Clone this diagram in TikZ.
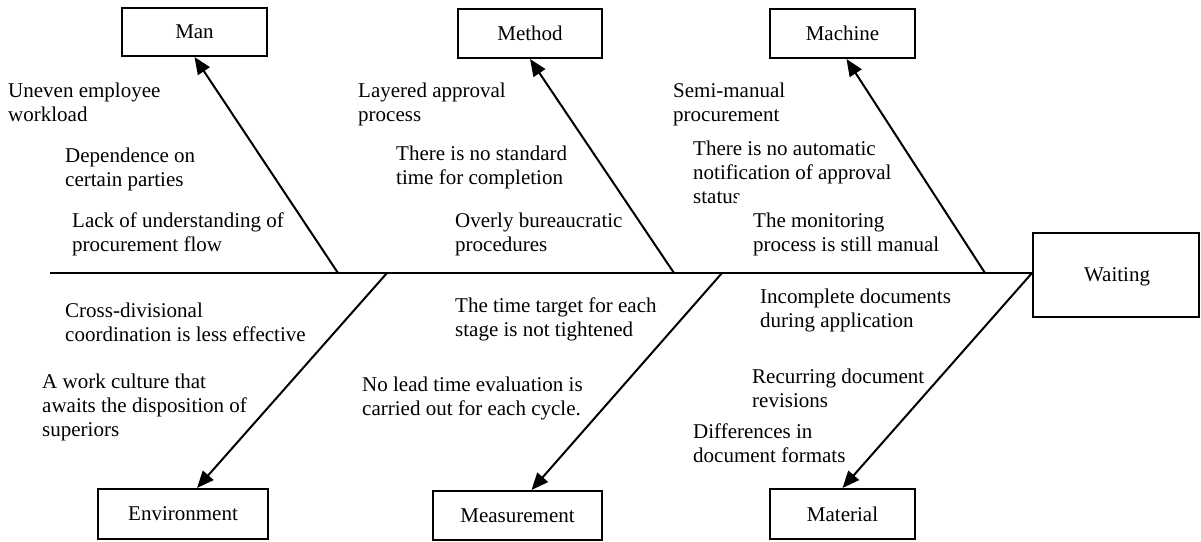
\documentclass[tikz,border=0pt]{standalone}
\usepackage{fontspec}
\setmainfont{Liberation Serif}
\usetikzlibrary{arrows.meta}
\begin{document}
\begin{tikzpicture}[x=1pt,y=-1pt,
  every node/.style={font=\fontsize{21}{24}\selectfont},
  catbox/.style={draw,line width=2pt,inner sep=0pt,minimum width=145pt,minimum height=48pt},
  % base anchor of a multi-line node sits on its last line
  cause/.style={anchor=base west,align=left,inner sep=0pt},
  bone/.style={line width=2pt},
  rib/.style={line width=2pt,-{Triangle[length=17pt,width=14pt]}}]
\useasboundingbox (0,0) rectangle (1201,541);

% category boxes
\node[catbox] (man) at (194.5,32) {Man};
\node[catbox,minimum width=144pt,minimum height=49pt] (method) at (530,33.5) {Method};
\node[catbox,minimum height=49pt] (machine) at (842.5,33.5) {Machine};
\node[catbox,minimum width=170pt,minimum height=50pt] (env) at (183,514) {Environment};
\node[catbox,minimum width=169pt,minimum height=49pt] (meas) at (517.5,515.5) {Measurement};
\node[catbox,minimum height=50pt] (material) at (842.5,514) {Material};
\node[catbox,minimum width=166pt,minimum height=84pt] (wait) at (1116,275) {};
\node (waittext) at (1117,277) {Waiting};

% causes above the spine
\node[cause] (c1) at (8,121) {Uneven employee\\workload};
\node[cause] (c2) at (65,186) {Dependence on\\certain parties};
\node[cause] (c3) at (72,251) {Lack of understanding of\\procurement flow};
\node[cause] (c4) at (358,121) {Layered approval\\process};
\node[cause] (c5) at (396,184) {There is no standard\\time for completion};
\node[cause] (c6) at (455,251) {Overly bureaucratic\\procedures};
\node[cause] (c7) at (673,121) {Semi-manual\\procurement};
\node[cause] (c8) at (693,203) {There is no automatic\\notification of approval\\status};
\node[cause,fill=white,inner sep=16pt] (c9) at (737,251) {The monitoring\\process is still manual};

% causes below the spine
\node[cause] (d1) at (65,341) {Cross-divisional\\coordination is less effective};
\node[cause] (d2) at (42,436) {A work culture that\\awaits the disposition of\\superiors};
\node[cause] (d3) at (455,336) {The time target for each\\stage is not tightened};
\node[cause] (d4) at (362,415) {No lead time evaluation is\\carried out for each cycle.};
\node[cause] (d5) at (760,327) {Incomplete documents\\during application};
\node[cause] (d6) at (752,407) {Recurring document\\revisions};
\node[cause] (d7) at (693,462) {Differences in\\document formats};

% spine and ribs
\coordinate (tail) at (50,273);
\coordinate (s1) at (338,273);
\coordinate (s2) at (674,273);
\coordinate (s3) at (985,273);
\coordinate (s4) at (387,273);
\coordinate (s5) at (722,273);
\draw[bone] (tail) -- (wait.west |- tail);
\draw[rib] (s1) -- (man.south);
\draw[rib] (s2) -- (method.south);
\draw[rib] (s3) -- ([xshift=4pt]machine.south);
\draw[rib] (s4) -- ([xshift=14pt]env.north);
\draw[rib] (s5) -- ([xshift=14pt]meas.north);
\draw[rib] (wait.west |- tail) -- (material.north);
\end{tikzpicture}
\end{document}
